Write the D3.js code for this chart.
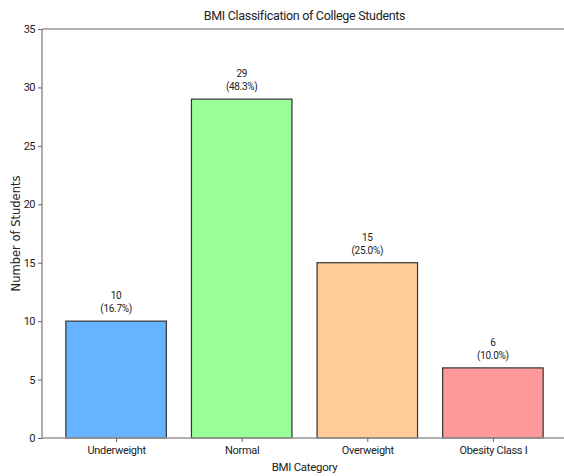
<!DOCTYPE html>
<html><head><meta charset="utf-8">
<script src="https://cdn.jsdelivr.net/npm/d3@7"></script>
<style>
body{margin:0;background:#fff;}
text{font-family:"Roboto","DejaVu Sans",sans-serif;fill:#222;}
</style></head>
<body><svg id="c" width="564" height="476"></svg>
<script>
const categories = ["Underweight","Normal","Overweight","Obesity Class I"];
const counts = [10,29,15,6];
const percents = ["16.7%","48.3%","25.0%","10.0%"];
const colors = ["#66b3ff","#99ff99","#ffcc99","#ff9999"];
const yTicks = [0,5,10,15,20,25,30,35];

const svg = d3.select("#c");
const L = 42, R = 567, T = 29, B = 438;
const x = d3.scaleLinear().domain([-0.59, 3.59]).range([L, R]);
const y = d3.scaleLinear().domain([0, 35]).range([B, T]);
const bw = x(0.4) - x(-0.4);

svg.selectAll("rect.bar").data(counts).enter().append("rect")
  .attr("class","bar")
  .attr("x",(d,i)=>x(i)-bw/2).attr("width",bw)
  .attr("y",d=>y(d)).attr("height",d=>y(0)-y(d))
  .attr("fill",(d,i)=>colors[i]).attr("stroke","#333").attr("stroke-width",1.2);

const g = svg.append("g");
g.append("line").attr("x1",L).attr("x2",R).attr("y1",T).attr("y2",T).attr("stroke","#999").attr("stroke-width",1.6);
g.append("line").attr("x1",L).attr("x2",L).attr("y1",T).attr("y2",B).attr("stroke","#999").attr("stroke-width",1.6);
g.append("line").attr("x1",L).attr("x2",R).attr("y1",B).attr("y2",B).attr("stroke","#999").attr("stroke-width",1.6);

const ya = svg.append("g").attr("transform",`translate(${L},0)`)
  .call(d3.axisLeft(y).tickValues(yTicks).tickSize(4).tickPadding(3));
ya.select(".domain").remove();
ya.selectAll(".tick line").attr("stroke","#666");
ya.selectAll(".tick text").style("font-size","11px").attr("fill","#222").style("font-family",null).style("letter-spacing","-0.5px");

const xa = svg.append("g").attr("transform",`translate(0,${B})`)
  .call(d3.axisBottom(x).tickValues([0,1,2,3]).tickFormat(i=>categories[i]).tickSize(4).tickPadding(4));
xa.select(".domain").remove();
xa.selectAll(".tick line").attr("stroke","#666");
xa.selectAll(".tick text").style("font-size","11px").attr("fill","#222").style("font-family",null).style("letter-spacing","-0.3px");

const ann = svg.selectAll("g.ann").data(counts).enter().append("g").attr("class","ann");
ann.append("text").attr("x",(d,i)=>x(i)).attr("y",d=>y(d)-22)
  .attr("text-anchor","middle").style("font-size","10px").style("letter-spacing","-0.3px").text(d=>d);
ann.append("text").attr("x",(d,i)=>x(i)).attr("y",d=>y(d)-9)
  .attr("text-anchor","middle").style("font-size","10px").style("letter-spacing","-0.3px").text((d,i)=>`(${percents[i]})`);

svg.append("text").attr("x",(L+R)/2).attr("y",20).attr("text-anchor","middle")
  .style("font-size","12.5px").style("letter-spacing","-0.3px").text("BMI Classification of College Students");
svg.append("text").attr("x",(L+R)/2).attr("y",471).attr("text-anchor","middle")
  .style("font-size","11.5px").style("letter-spacing","-0.3px").text("BMI Category");
svg.append("text").attr("transform",`translate(20,${(T+B)/2}) rotate(-90)`).attr("text-anchor","middle")
  .style("font-size","11.5px").style("font-family","'DejaVu Sans',sans-serif").text("Number of Students");
</script></body></html>
